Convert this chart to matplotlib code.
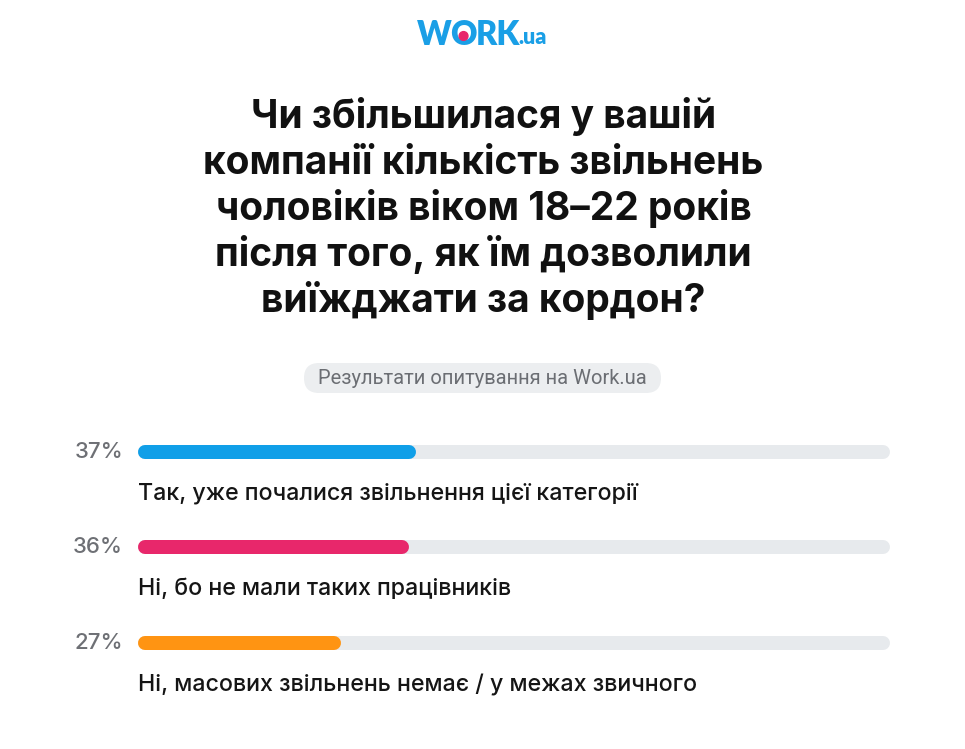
import matplotlib
matplotlib.use("Agg")
import matplotlib.pyplot as plt
from matplotlib.patches import FancyBboxPatch, Circle

categories = [
    "Так, уже почалися звільнення цієї категорії",
    "Ні, бо не мали таких працівників",
    "Ні, масових звільнень немає / у межах звичного",
]
values = [37, 36, 27]
pct_labels = ["37%", "36%", "27%"]
colors = ["#109fe8", "#e8276b", "#ff9412"]
title_lines = [
    "Чи збільшилася у вашій",
    "компанії кількість звільнень",
    "чоловіків віком 18–22 років",
    "після того, як їм дозволили",
    "виїжджати за кордон?",
]
subtitle = "Результати опитування на Work.ua"

W, H = 965, 749
fig = plt.figure(figsize=(W / 100, H / 100), dpi=100)
fig.patch.set_facecolor("white")

bg = fig.add_axes([0, 0, 1, 1])
bg.set_xlim(0, W)
bg.set_ylim(H, 0)
bg.axis("off")

TF = ["Inter", "DejaVu Sans"]
renderer = fig.canvas.get_renderer()

# logo
blue = "#1a9fe6"
x = 417
logo_y = 35
parts = [("W", 23.5), ("O", 23.5), ("RK", 23.5), (".ua", 15.5)]
for txt, sz in parts:
    t = bg.text(x, logo_y + (0 if sz > 20 else 3), txt, fontsize=sz, fontweight="heavy",
                color=blue, family=["Lato", "DejaVu Sans"], va="center", ha="left")
    bb = t.get_window_extent(renderer)
    if txt == "O":
        cx = x + bb.width / 2
        bg.add_patch(Circle((cx, logo_y + 1), 4.4, color="#e8276b", zorder=5))
    x += bb.width - 1.5

# title
y0 = 117
for i, line in enumerate(title_lines):
    bg.text(W / 2 + 1, y0 + i * 46, line, fontsize=28, fontweight="bold",
            color="#111111", family=TF, ha="center", va="center")

# subtitle pill
pill = FancyBboxPatch((304, 363), 357, 30, boxstyle="round,pad=0,rounding_size=15",
                      facecolor="#eceef0", edgecolor="none")
bg.add_patch(pill)
bg.text(482, 378, subtitle, fontsize=14.5, color="#6b6e73",
        family=["Roboto", "DejaVu Sans"], ha="center", va="center")

# bars axes: track from x=138 to 890 px
L, R = 138, 890
ax = fig.add_axes([L / W, 0, (R - L) / W, 1])
ax.set_xlim(0, 100)
ax.set_ylim(H, 0)
ax.axis("off")
bar_y = [452, 547, 643]
bar_h = 14
lw_pt = bar_h * 72 / 100
inset = (bar_h / 2) / (R - L) * 100
for yb, v, c, lab, pl in zip(bar_y, values, colors, categories, pct_labels):
    ax.plot([inset, 100 - inset], [yb, yb], color="#e7eaed", lw=lw_pt,
            solid_capstyle="round", zorder=1)
    ax.plot([inset, v - inset], [yb, yb], color=c, lw=lw_pt,
            solid_capstyle="round", zorder=2)
    bg.text(123, yb, pl, fontsize=16, color="#6e7075", family=TF,
            fontweight="medium", ha="right", va="center")
    bg.text(138, yb + 42, lab, fontsize=16.7, color="#151515", family=TF,
            fontweight="medium", ha="left", va="center")

fig.savefig("out.png", dpi=100, facecolor="white")
